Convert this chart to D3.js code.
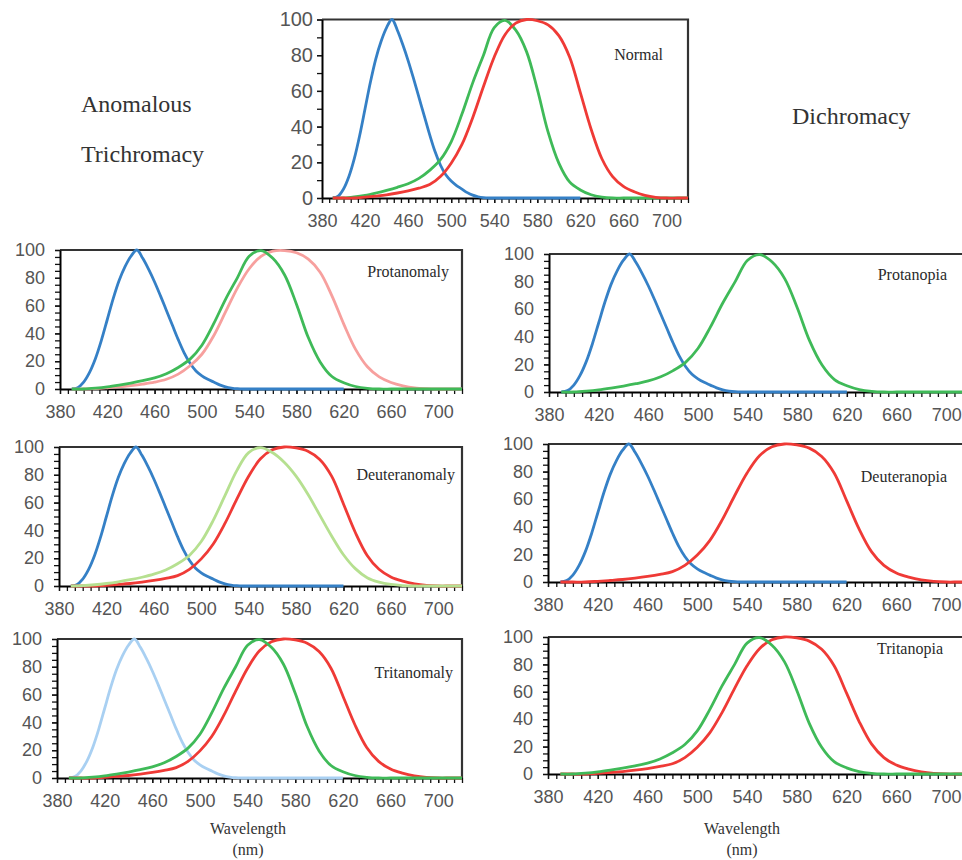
<!DOCTYPE html>
<html>
<head>
<meta charset="utf-8">
<script src="https://cdn.jsdelivr.net/npm/d3@7"></script>
<style>
  body { margin: 0; background: #fff; }
  svg { display: block; }
</style>
</head>
<body>
<svg id="chart" width="962" height="860"></svg>
<script>
// S-cone samples every 5 nm (sharp peak), M/L-cone samples every 10 nm
const sWavelengths = [390, 395, 400, 405, 410, 415, 420, 425, 430, 435, 440, 445,
  450, 455, 460, 465, 470, 475, 480, 485, 490, 495, 500, 505, 510, 515, 520,
  525, 530, 535, 540, 550, 560, 570, 580, 590, 600, 610, 620];
const sCone = [0, 1, 5, 12, 22, 35, 50, 65, 78, 88, 95.5, 100,
  94, 86, 77, 67, 56.5, 46, 35.5, 26, 18.5, 13, 9.5, 7, 5, 3, 1.6,
  0.7, 0.2, 0, 0, 0, 0, 0, 0, 0, 0, 0, 0];

const wavelengths = [390, 400, 410, 420, 430, 440, 450, 460, 470, 480, 490, 500,
  510, 520, 530, 540, 550, 560, 570, 580, 590, 600, 610, 620, 630, 640, 650,
  660, 670, 680, 690, 700, 710, 720];
const mCone = [0, 0, 0.6, 1.5, 2.8, 4.3, 6, 8, 11, 15.5, 21.5, 31.5,
  47, 64.5, 80, 95.5, 99.5, 94, 82, 61, 37, 19.5, 9, 4.5, 1.8, 0.5, 0,
  0, 0, 0, 0, 0, 0, 0];
const lCone = [0, 0, 0, 0.5, 1.1, 1.8, 2.8, 4, 5.5, 7.5, 12, 19.5,
  30, 45, 62.5, 79, 91.5, 98, 100, 99.3, 97, 91, 79, 59, 38.5, 22, 12,
  6.5, 3.5, 1.5, 0.4, 0, 0, 0];
const lProtanomaly = [0, 0, 0.3, 0.85, 1.5, 2.4, 3.5, 4.9, 7, 10.7, 16.7, 25,
  38.3, 55.4, 72.6, 86.5, 95.4, 99.2, 99.6, 98, 93.4, 84, 67, 46.7, 28.5, 16, 8.7,
  4.7, 2.3, 0.8, 0.2, 0, 0, 0];
const mDeuteranomaly = [0, 0.3, 0.9, 1.8, 3, 4.5, 6.3, 8.5, 11.5, 16, 22, 32,
  47, 65, 83, 96, 99.5, 96, 89, 79, 66, 51, 36, 22.5, 12.5, 6, 2.8,
  1.1, 0.3, 0, 0, 0, 0, 0];

const xTickLabels = [380, 420, 460, 500, 540, 580, 620, 660, 700];
const yTickLabels = [0, 20, 40, 60, 80, 100];

const BLUE = "#3580c6", GREEN = "#3fba58", RED = "#ef3a36";
const S = [sWavelengths, sCone], M = [wavelengths, mCone], L = [wavelengths, lCone];

const panels = [
  { title: "Normal", left: 322, right: 688, top: 19.5, bottom: 198, yMinor: 10, yPad: 4, ySize: 20,
    tx: 663, ty: 60, lines: [[S, BLUE], [M, GREEN], [L, RED]] },
  { title: "Protanomaly", left: 60, right: 462, top: 250, bottom: 389, yMinor: 5, yPad: 10, ySize: 18,
    tx: 449, ty: 277, lines: [[S, BLUE], [[wavelengths, lProtanomaly], "#f7a09e"], [M, GREEN]] },
  { title: "Deuteranomaly", left: 59, right: 462, top: 447, bottom: 586, yMinor: 5, yPad: 10, ySize: 18,
    tx: 455, ty: 480, lines: [[S, BLUE], [L, RED], [[wavelengths, mDeuteranomaly], "#b6e090"]] },
  { title: "Tritanomaly", left: 57, right: 462, top: 639, bottom: 778, yMinor: 5, yPad: 10, ySize: 18,
    tx: 453, ty: 678, lines: [[S, "#a9d0f2"], [L, RED], [M, GREEN]] },
  { title: "Protanopia", left: 549, right: 971, top: 254, bottom: 392, yMinor: 5, yPad: 10, ySize: 18,
    tx: 947, ty: 280, lines: [[S, BLUE], [M, GREEN]] },
  { title: "Deuteranopia", left: 548, right: 971, top: 444, bottom: 582, yMinor: 5, yPad: 10, ySize: 18,
    tx: 947, ty: 482, lines: [[S, BLUE], [L, RED]] },
  { title: "Tritanopia", left: 548, right: 971, top: 637, bottom: 774, yMinor: 5, yPad: 10, ySize: 18,
    tx: 943, ty: 654, lines: [[L, RED], [M, GREEN]] }
];

const svg = d3.select("#chart");
const serif = "'Liberation Serif', 'Times New Roman', serif";
const sans = "'Liberation Sans', Arial, sans-serif";

panels.forEach(p => {
  const x = d3.scaleLinear().domain([380, 720]).range([p.left, p.right]);
  const y = d3.scaleLinear().domain([0, 100]).range([p.bottom, p.top]);
  const g = svg.append("g");

  // top + right frame
  g.append("path")
    .attr("d", `M${p.left},${p.top}H${p.right}V${p.bottom}`)
    .attr("fill", "none")
    .attr("stroke", "#333")
    .attr("stroke-width", 2.2);

  // minor ticks
  const xMinor = d3.range(0, 52).map(i => 380 + i * 40 / 6).filter(v => v <= 720);
  g.append("g")
    .attr("transform", `translate(0,${p.bottom})`)
    .call(d3.axisBottom(x).tickValues(xMinor).tickSize(5).tickFormat(""))
    .call(a => a.select(".domain").remove())
    .call(a => a.selectAll("line").attr("stroke", "#111").attr("stroke-width", 1.3));
  g.append("g")
    .attr("transform", `translate(${p.left},0)`)
    .call(d3.axisLeft(y).tickValues(d3.range(0, 101, p.yMinor)).tickSize(5).tickFormat(""))
    .call(a => a.select(".domain").remove())
    .call(a => a.selectAll("line").attr("stroke", "#111").attr("stroke-width", 1.3));

  // labelled axes
  const xAxis = g.append("g")
    .attr("transform", `translate(0,${p.bottom})`)
    .call(d3.axisBottom(x).tickValues(xTickLabels).tickSize(5).tickSizeOuter(0).tickPadding(11))
    .attr("font-size", 18);
  const yAxis = g.append("g")
    .attr("transform", `translate(${p.left},0)`)
    .call(d3.axisLeft(y).tickValues(yTickLabels).tickSize(5).tickSizeOuter(0).tickPadding(p.yPad))
    .attr("font-size", p.ySize);
  [xAxis, yAxis].forEach(a => {
    a.attr("font-family", sans);
    a.selectAll("text").attr("fill", "#555");
    a.selectAll("line").attr("stroke", "#111").attr("stroke-width", 1.3);
    a.select(".domain").attr("stroke", "#000").attr("stroke-width", 2);
  });

  // curves
  const line = d3.line()
    .x(d => x(d[0]))
    .y(d => y(d[1]))
    .curve(d3.curveCatmullRom.alpha(0.5));
  p.lines.forEach(([[ws, vals], color]) => {
    g.append("path")
      .datum(d3.zip(ws, vals))
      .attr("fill", "none")
      .attr("stroke", color)
      .attr("stroke-width", 2.8)
      .attr("stroke-linejoin", "round")
      .attr("d", line);
  });

  g.append("text")
    .attr("x", p.tx)
    .attr("y", p.ty)
    .attr("text-anchor", "end")
    .attr("font-family", serif)
    .attr("font-size", 16)
    .attr("fill", "#2a2a2a")
    .text(p.title);
});

// free-standing labels
const labels = [
  { t: "Anomalous", x: 81, y: 112, size: 24, anchor: "start" },
  { t: "Trichromacy", x: 81, y: 162, size: 24, anchor: "start" },
  { t: "Dichromacy", x: 792, y: 124, size: 24, anchor: "start" },
  { t: "Wavelength", x: 248, y: 834, size: 16, anchor: "middle" },
  { t: "(nm)", x: 248, y: 855, size: 16, anchor: "middle" },
  { t: "Wavelength", x: 742, y: 834, size: 16, anchor: "middle" },
  { t: "(nm)", x: 742, y: 855, size: 16, anchor: "middle" }
];
svg.selectAll("text.free")
  .data(labels)
  .join("text")
  .attr("class", "free")
  .attr("x", d => d.x)
  .attr("y", d => d.y)
  .attr("text-anchor", d => d.anchor)
  .attr("font-family", serif)
  .attr("font-size", d => d.size)
  .attr("fill", "#333")
  .text(d => d.t);
</script>
</body>
</html>
